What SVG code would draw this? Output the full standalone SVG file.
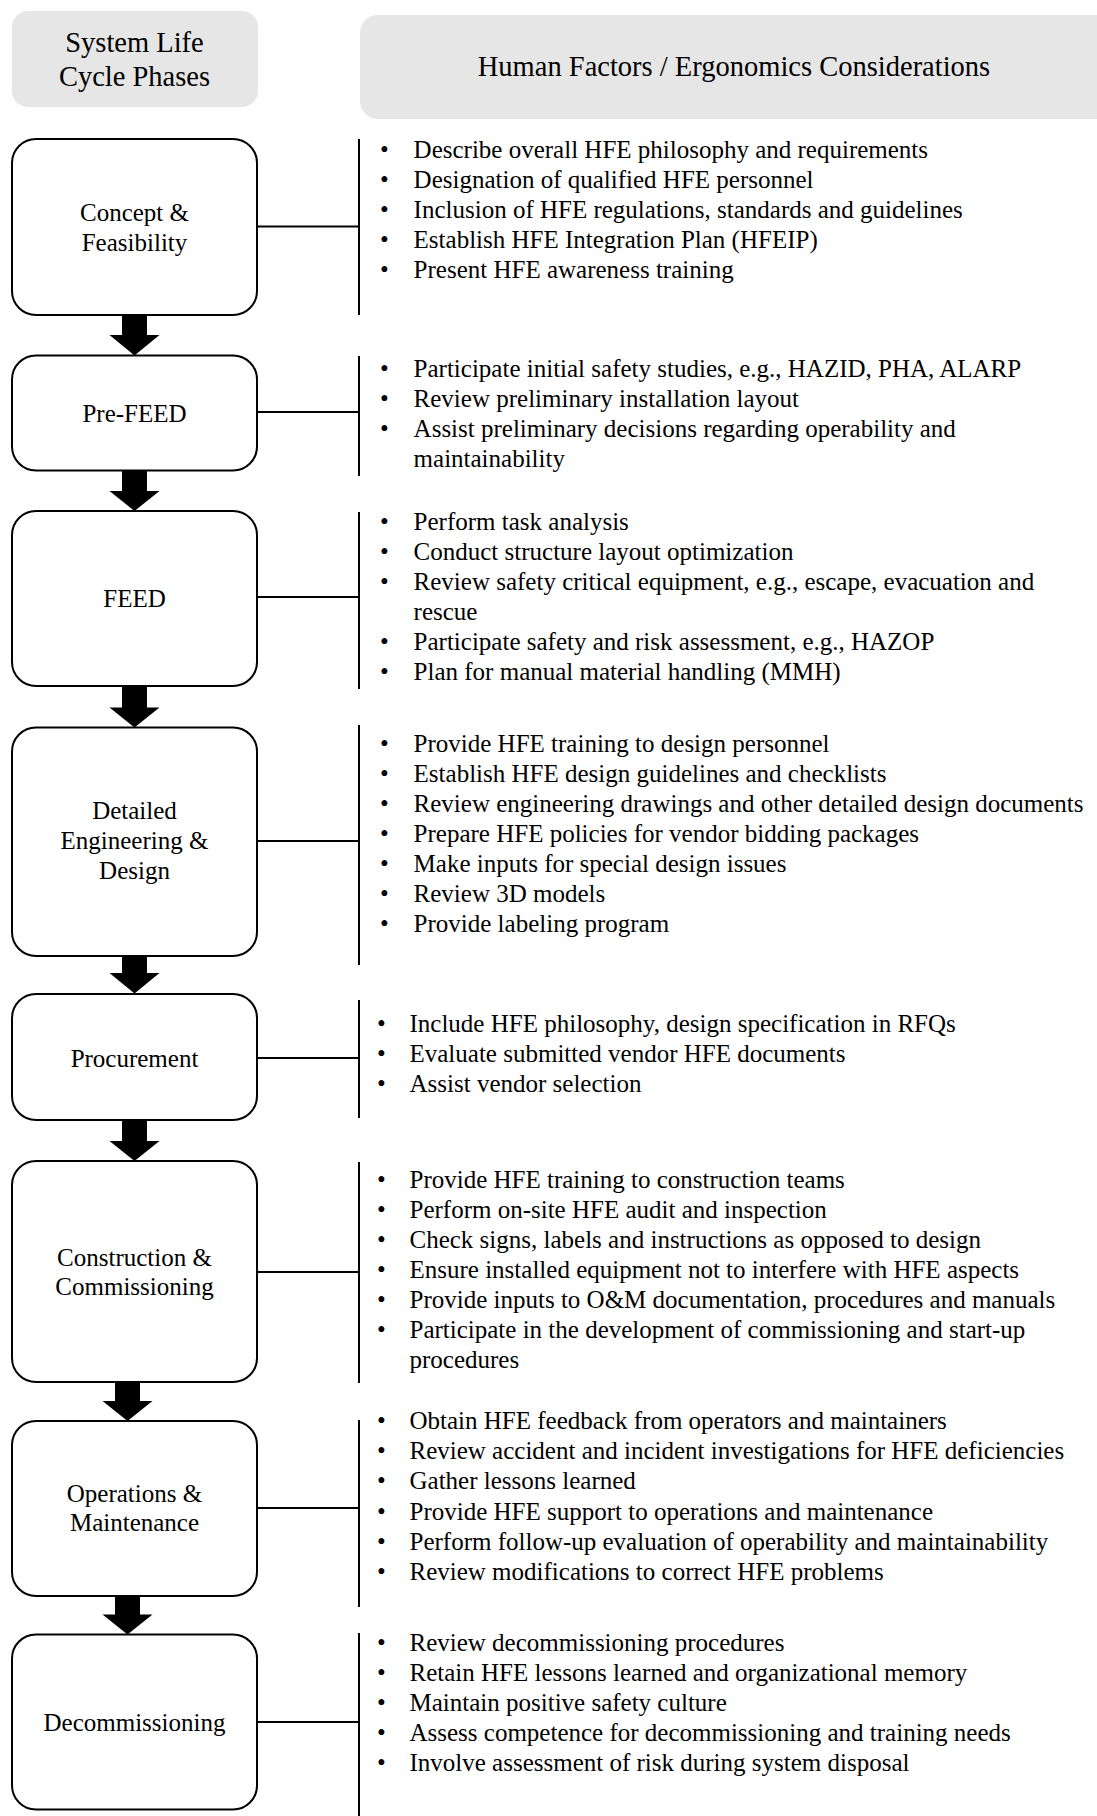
<svg xmlns="http://www.w3.org/2000/svg" width="1097" height="1816" viewBox="0 0 1097 1816">
<style>
text { font-family: "Liberation Serif", "Times New Roman", serif; fill: #000; }
.hdr { font-size: 28.5px; text-anchor: middle; }
.lbl { font-size: 25px; text-anchor: middle; }
.itm { font-size: 25px; }
.hbox { fill: #e6e6e6; stroke: none; }
.node { fill: #fff; stroke: #000; stroke-width: 2; }
.conn line { stroke: #000; stroke-width: 2; }
.arrow { fill: #000; stroke: none; }
</style>
<rect width="1097" height="1816" fill="#fff"/>

<g id="header-phases">
<rect class="hbox" x="12" y="11" width="246" height="96" rx="16"/>
<text class="hdr" x="134.5" y="51.5">System Life</text>
<text class="hdr" x="134.5" y="85.5">Cycle Phases</text>
</g>
<g id="header-hfe">
<rect class="hbox" x="360" y="15" width="760" height="104" rx="18"/>
<text class="hdr" x="734" y="76">Human Factors / Ergonomics Considerations</text>
</g>

<g id="connectors" class="conn">
<line x1="359" y1="139" x2="359" y2="315"/>
<line x1="257" y1="226.5" x2="359" y2="226.5"/>
<line x1="359" y1="356" x2="359" y2="476"/>
<line x1="257" y1="412" x2="359" y2="412"/>
<line x1="359" y1="512" x2="359" y2="689"/>
<line x1="257" y1="597" x2="359" y2="597"/>
<line x1="359" y1="725" x2="359" y2="965"/>
<line x1="257" y1="841" x2="359" y2="841"/>
<line x1="359" y1="1000" x2="359" y2="1118"/>
<line x1="257" y1="1058" x2="359" y2="1058"/>
<line x1="359" y1="1162" x2="359" y2="1383"/>
<line x1="257" y1="1272" x2="359" y2="1272"/>
<line x1="359" y1="1420" x2="359" y2="1607"/>
<line x1="257" y1="1508" x2="359" y2="1508"/>
<line x1="359" y1="1633" x2="359" y2="1816"/>
<line x1="257" y1="1722" x2="359" y2="1722"/>
<polygon class="arrow" points="122,315 147,315 147,335 159.5,335 134.5,355.5 109.5,335 122,335"/>
<polygon class="arrow" points="122,470.5 147,470.5 147,491 159.5,491 134.5,511 109.5,491 122,491"/>
<polygon class="arrow" points="122,686 147,686 147,707.5 159.5,707.5 134.5,727.5 109.5,707.5 122,707.5"/>
<polygon class="arrow" points="122,956 147,956 147,973 159.5,973 134.5,993.5 109.5,973 122,973"/>
<polygon class="arrow" points="122,1120 147,1120 147,1141 159.5,1141 134.5,1161 109.5,1141 122,1141"/>
<polygon class="arrow" points="115,1382 140,1382 140,1401 152.5,1401 127.5,1421 102.5,1401 115,1401"/>
<polygon class="arrow" points="115,1596 140,1596 140,1614.5 152.5,1614.5 127.5,1634.5 102.5,1614.5 115,1614.5"/>
</g>

<g id="concept">
<rect class="node" x="12" y="139" width="245" height="176" rx="24"/>
<text class="lbl" x="134.5" y="221">Concept &amp;</text>
<text class="lbl" x="134.5" y="251">Feasibility</text>
<text class="itm" x="380" y="157.5">•</text><text class="itm" x="413.6" y="157.5">Describe overall HFE philosophy and requirements</text>
<text class="itm" x="380" y="187.6">•</text><text class="itm" x="413.6" y="187.6">Designation of qualified HFE personnel</text>
<text class="itm" x="380" y="217.7">•</text><text class="itm" x="413.6" y="217.7">Inclusion of HFE regulations, standards and guidelines</text>
<text class="itm" x="380" y="247.8">•</text><text class="itm" x="413.6" y="247.8">Establish HFE Integration Plan (HFEIP)</text>
<text class="itm" x="380" y="277.9">•</text><text class="itm" x="413.6" y="277.9">Present HFE awareness training</text>
</g>

<g id="prefeed">
<rect class="node" x="12" y="355.5" width="245" height="115" rx="24"/>
<text class="lbl" x="134.5" y="421.5">Pre-FEED</text>
<text class="itm" x="380" y="377">•</text><text class="itm" x="413.6" y="377">Participate initial safety studies, e.g., HAZID, PHA, ALARP</text>
<text class="itm" x="380" y="407">•</text><text class="itm" x="413.6" y="407">Review preliminary installation layout</text>
<text class="itm" x="380" y="437">•</text><text class="itm" x="413.6" y="437">Assist preliminary decisions regarding operability and</text>
<text class="itm" x="413.6" y="467">maintainability</text>
</g>

<g id="feed">
<rect class="node" x="12" y="511" width="245" height="175" rx="24"/>
<text class="lbl" x="134.5" y="606.5">FEED</text>
<text class="itm" x="380" y="529.5">•</text><text class="itm" x="413.6" y="529.5">Perform task analysis</text>
<text class="itm" x="380" y="559.6">•</text><text class="itm" x="413.6" y="559.6">Conduct structure layout optimization</text>
<text class="itm" x="380" y="589.7">•</text><text class="itm" x="413.6" y="589.7">Review safety critical equipment, e.g., escape, evacuation and</text>
<text class="itm" x="413.6" y="619.8">rescue</text>
<text class="itm" x="380" y="649.9">•</text><text class="itm" x="413.6" y="649.9">Participate safety and risk assessment, e.g., HAZOP</text>
<text class="itm" x="380" y="680">•</text><text class="itm" x="413.6" y="680">Plan for manual material handling (MMH)</text>
</g>

<g id="detailed">
<rect class="node" x="12" y="727.5" width="245" height="228.5" rx="24"/>
<text class="lbl" x="134.5" y="819">Detailed</text>
<text class="lbl" x="134.5" y="849">Engineering &amp;</text>
<text class="lbl" x="134.5" y="879">Design</text>
<text class="itm" x="380" y="752">•</text><text class="itm" x="413.6" y="752">Provide HFE training to design personnel</text>
<text class="itm" x="380" y="782">•</text><text class="itm" x="413.6" y="782">Establish HFE design guidelines and checklists</text>
<text class="itm" x="380" y="812">•</text><text class="itm" x="413.6" y="812">Review engineering drawings and other detailed design documents</text>
<text class="itm" x="380" y="842">•</text><text class="itm" x="413.6" y="842">Prepare HFE policies for vendor bidding packages</text>
<text class="itm" x="380" y="872">•</text><text class="itm" x="413.6" y="872">Make inputs for special design issues</text>
<text class="itm" x="380" y="902">•</text><text class="itm" x="413.6" y="902">Review 3D models</text>
<text class="itm" x="380" y="932">•</text><text class="itm" x="413.6" y="932">Provide labeling program</text>
</g>

<g id="procurement">
<rect class="node" x="12" y="994" width="245" height="126" rx="24"/>
<text class="lbl" x="134.5" y="1067">Procurement</text>
<text class="itm" x="377" y="1032">•</text><text class="itm" x="409.5" y="1032">Include HFE philosophy, design specification in RFQs</text>
<text class="itm" x="377" y="1062">•</text><text class="itm" x="409.5" y="1062">Evaluate submitted vendor HFE documents</text>
<text class="itm" x="377" y="1092">•</text><text class="itm" x="409.5" y="1092">Assist vendor selection</text>
</g>

<g id="construction">
<rect class="node" x="12" y="1161" width="245" height="221" rx="24"/>
<text class="lbl" x="134.5" y="1265.5">Construction &amp;</text>
<text class="lbl" x="134.5" y="1294.5">Commissioning</text>
<text class="itm" x="377" y="1187.5">•</text><text class="itm" x="409.5" y="1187.5">Provide HFE training to construction teams</text>
<text class="itm" x="377" y="1217.5">•</text><text class="itm" x="409.5" y="1217.5">Perform on-site HFE audit and inspection</text>
<text class="itm" x="377" y="1247.5">•</text><text class="itm" x="409.5" y="1247.5">Check signs, labels and instructions as opposed to design</text>
<text class="itm" x="377" y="1277.5">•</text><text class="itm" x="409.5" y="1277.5">Ensure installed equipment not to interfere with HFE aspects</text>
<text class="itm" x="377" y="1307.5">•</text><text class="itm" x="409.5" y="1307.5">Provide inputs to O&amp;M documentation, procedures and manuals</text>
<text class="itm" x="377" y="1337.5">•</text><text class="itm" x="409.5" y="1337.5">Participate in the development of commissioning and start-up</text>
<text class="itm" x="409.5" y="1367.5">procedures</text>
</g>

<g id="operations">
<rect class="node" x="12" y="1421" width="245" height="175" rx="24"/>
<text class="lbl" x="134.5" y="1502">Operations &amp;</text>
<text class="lbl" x="134.5" y="1531">Maintenance</text>
<text class="itm" x="377" y="1429">•</text><text class="itm" x="409.5" y="1429">Obtain HFE feedback from operators and maintainers</text>
<text class="itm" x="377" y="1459.2">•</text><text class="itm" x="409.5" y="1459.2">Review accident and incident investigations for HFE deficiencies</text>
<text class="itm" x="377" y="1489.4">•</text><text class="itm" x="409.5" y="1489.4">Gather lessons learned</text>
<text class="itm" x="377" y="1519.6">•</text><text class="itm" x="409.5" y="1519.6">Provide HFE support to operations and maintenance</text>
<text class="itm" x="377" y="1549.8">•</text><text class="itm" x="409.5" y="1549.8">Perform follow-up evaluation of operability and maintainability</text>
<text class="itm" x="377" y="1580">•</text><text class="itm" x="409.5" y="1580">Review modifications to correct HFE problems</text>
</g>

<g id="decommissioning">
<rect class="node" x="12" y="1634.5" width="245" height="175" rx="24"/>
<text class="lbl" x="134.5" y="1730.5">Decommissioning</text>
<text class="itm" x="377" y="1650.5">•</text><text class="itm" x="409.5" y="1650.5">Review decommissioning procedures</text>
<text class="itm" x="377" y="1680.5">•</text><text class="itm" x="409.5" y="1680.5">Retain HFE lessons learned and organizational memory</text>
<text class="itm" x="377" y="1710.5">•</text><text class="itm" x="409.5" y="1710.5">Maintain positive safety culture</text>
<text class="itm" x="377" y="1740.5">•</text><text class="itm" x="409.5" y="1740.5">Assess competence for decommissioning and training needs</text>
<text class="itm" x="377" y="1770.5">•</text><text class="itm" x="409.5" y="1770.5">Involve assessment of risk during system disposal</text>
</g>
</svg>
